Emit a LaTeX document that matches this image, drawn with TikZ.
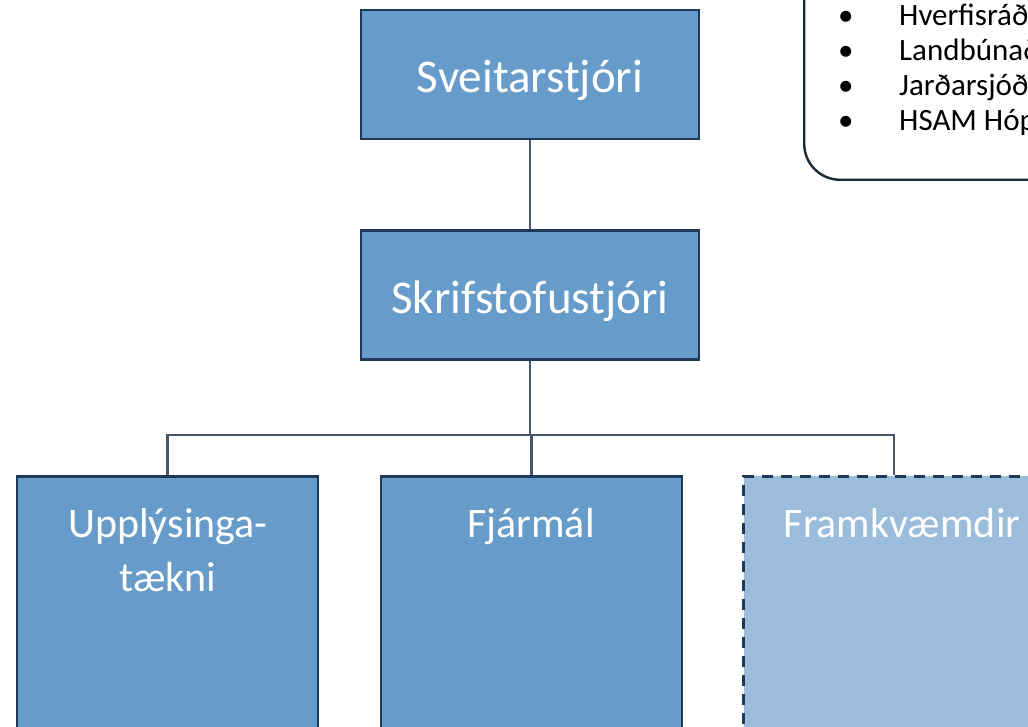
\documentclass[tikz,border=0pt]{standalone}
\usepackage{fontspec}
\setmainfont{Carlito}
\definecolor{boxfill}{RGB}{103,156,202}
\definecolor{lightfill}{RGB}{155,188,219}
\definecolor{boxline}{RGB}{31,58,88}
\definecolor{connline}{RGB}{72,86,108}
\definecolor{noteline}{RGB}{27,42,58}
\begin{document}
\begin{tikzpicture}[x=1pt,y=-1pt,
  mainbox/.style={draw=boxline, line width=2.8pt, fill=boxfill, minimum width=338pt,
    minimum height=129pt, inner sep=0pt, text=white,
    font=\fontsize{47}{56}\selectfont, text height=36pt, text depth=0pt},
  subbox/.style={draw=boxline, line width=2.8pt, fill=boxfill, minimum width=301pt,
    minimum height=320pt, inner sep=0pt, anchor=north},
  dashbox/.style={subbox, fill=lightfill, line width=2.8pt, dash pattern=on 11pt off 8pt},
  sublabel/.style={text=white, font=\fontsize{42}{54}\selectfont, align=center,
    inner sep=0pt, anchor=base},
  conn/.style={draw=connline, line width=2.4pt},
  notebox/.style={draw=noteline, line width=2.4pt, fill=white, rounded corners=36pt,
    minimum width=420pt, minimum height=260pt, anchor=south west, inner sep=0pt},
  notetext/.style={font=\fontsize{31}{35}\selectfont, align=left, inner sep=0pt,
    anchor=base west, text=black}
]
\useasboundingbox (0,0) rectangle (1028,727);
\clip (0,0) rectangle (1028,727);
\fill[white] (0,0) rectangle (1028,727);

\node[notebox] (note) at (803,181) {};
\node[notetext] (notelist) at (838,131)
  {\makebox[61pt][l]{•}Hverfisráð\\
   \makebox[61pt][l]{•}Landbúnað\\
   \makebox[61pt][l]{•}Jarðarsjóð\\
   \makebox[61pt][l]{•}HSAM Hóp};

\node[mainbox] (sv) at (530,74.5) {Sveitarstjóri};
\node[mainbox] (sk) at (530,295) {Skrifstofustjóri};

\node[subbox] (ut) at (167.5,475) {};
\node[subbox] (fj) at (531.5,475) {};
\node[dashbox] (fr) at (894,475) {};

\node[sublabel] (utl) at (168,591) {Upplýsinga-\\tækni};
\node[sublabel] (fjl) at (531,537) {Fjármál};
\node[sublabel] (frl) at (902,537) {Framkvæmdir};

\coordinate (bus) at (530,435);
\draw[conn] (sv.south) -- (sk.north);
\draw[conn] (sk.south) -- (bus);
\draw[conn] (bus) -| (ut.north);
\draw[conn] (bus) -| (fj.north);
\draw[conn] (bus) -| (fr.north);
\end{tikzpicture}
\end{document}
